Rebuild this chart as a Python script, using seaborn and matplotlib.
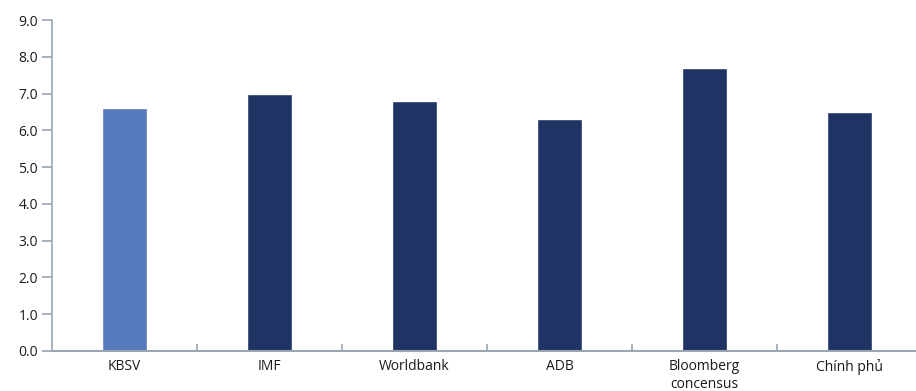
import matplotlib
matplotlib.use("Agg")
import matplotlib.pyplot as plt
import seaborn as sns
import pandas as pd
import numpy as np

categories = ["KBSV", "IMF", "Worldbank", "ADB", "Bloomberg\nconcensus", "Chính phủ"]
values = [6.6, 7.0, 6.8, 6.3, 7.7, 6.5]
colors = ["#5779bd", "#1f3464", "#1f3464", "#1f3464", "#1f3464", "#1f3464"]
yticks = [0, 1, 2, 3, 4, 5, 6, 7, 8, 9]

sns.set_style("ticks")
plt.rcParams['font.family'] = ['Open Sans', 'DejaVu Sans']

df = pd.DataFrame({"cat": categories, "val": values})

fig = plt.figure(figsize=(9.16, 3.91), dpi=100)
ax = fig.add_axes([52/916, 40/391, (922-52)/916, 331/391])
sns.barplot(data=df, x="cat", y="val", hue="cat", palette=colors, legend=False,
            width=0.31, ax=ax, saturation=1)

axis_col = "#9aa5b1"
txt_col = "#1a1a1a"
ax.set_ylim(0, 9)
ax.set_xlim(-0.5, 5.5)
ax.set_yticks(yticks)
ax.set_yticklabels([f"{v:.1f}" for v in yticks], fontsize=10, color=txt_col)
ax.tick_params(axis="y", which="major", left=True, direction="out", length=7,
               width=1.2, color=axis_col, pad=3)

n = len(categories)
ax.set_xticks(np.arange(n) - 0.5 + 1, minor=False)
ax.set_xticks(np.arange(n), minor=True)
ax.set_xticklabels([""] * n, minor=False)
ax.set_xticklabels(categories, minor=True, fontsize=10, color=txt_col, linespacing=1.25)
ax.tick_params(axis="x", which="major", bottom=True, direction="in", length=5, width=1.2, color=axis_col)
ax.tick_params(axis="x", which="minor", bottom=True, length=0, pad=6)

ax.set_xlabel("")
ax.set_ylabel("")
for s in ["top", "right"]:
    ax.spines[s].set_visible(False)
ax.spines["left"].set_color(axis_col)
ax.spines["bottom"].set_color(axis_col)
ax.spines["left"].set_linewidth(1.2)
ax.spines["bottom"].set_linewidth(1.5)
ax.grid(False)

fig.savefig("out.png", dpi=100)
